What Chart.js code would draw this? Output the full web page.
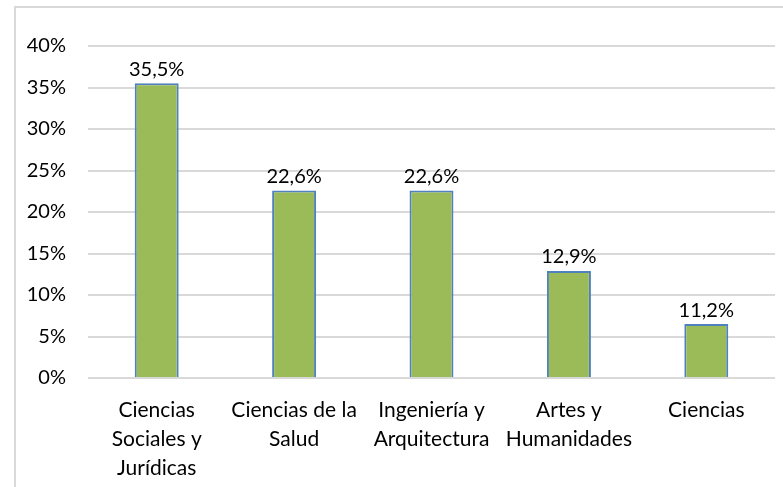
<!DOCTYPE html>
<html>
<head>
<meta charset="utf-8">
<script src="https://cdn.jsdelivr.net/npm/chart.js@4"></script>
<style>
  html, body { margin: 0; padding: 0; background: #fff; }
  #wrap { position: relative; width: 783px; height: 487px; overflow: hidden; }
  #frame { position: absolute; left: 14px; top: 6px; width: 900px; height: 600px;
           border-left: 2px solid #d9d9d9; border-top: 2px solid #d9d9d9; }
  canvas { position: absolute; left: 0; top: 0; }
</style>
</head>
<body>
<div id="wrap">
  <div id="frame"></div>
  <canvas id="chart" width="783" height="487"></canvas>
</div>
<script>
const categories = [
  ['Ciencias', 'Sociales y', 'Jurídicas'],
  ['Ciencias de la', 'Salud'],
  ['Ingeniería y', 'Arquitectura'],
  ['Artes y', 'Humanidades'],
  ['Ciencias'],
];
const values = [35.5, 22.6, 22.6, 12.9, 6.5];
const valueLabels = ['35,5%', '22,6%', '22,6%', '12,9%', '11,2%'];
const yTicks = [0, 5, 10, 15, 20, 25, 30, 35, 40];

const FONT = 'Lato, "Liberation Sans", sans-serif';

const barLabels = {
  id: 'barLabels',
  afterDatasetsDraw(chart) {
    const { ctx } = chart;
    const meta = chart.getDatasetMeta(0);
    ctx.save();
    ctx.font = '20px ' + FONT;
    ctx.fillStyle = '#000';
    ctx.textAlign = 'center';
    ctx.textBaseline = 'bottom';
    meta.data.forEach((bar, i) => {
      ctx.fillText(valueLabels[i], bar.x, bar.y - 4);
    });
    ctx.restore();
  },
};

new Chart(document.getElementById('chart'), {
  type: 'bar',
  data: {
    labels: categories,
    datasets: [{
      data: values,
      backgroundColor: '#9bbb59',
      borderColor: '#4f81bd',
      borderWidth: 2,
      barPercentage: 0.32,
      categoryPercentage: 1,
    }],
  },
  options: {
    responsive: false,
    animation: false,
    layout: { padding: { top: 46, right: 8, left: 0, bottom: 0 } },
    plugins: { legend: { display: false }, tooltip: { enabled: false } },
    scales: {
      x: {
        grid: { display: false },
        border: { display: false },
        ticks: { color: '#000', font: { family: FONT, size: 21, lineHeight: 1.38 }, padding: 10, maxRotation: 0, autoSkip: false },
        afterFit: s => { s.height = 109; },
      },
      y: {
        min: 0,
        max: 40,
        afterBuildTicks: s => { s.ticks = yTicks.map(v => ({ value: v })); },
        grid: { color: '#d9d9d9', lineWidth: 2, drawTicks: false },
        border: { display: false },
        ticks: { color: '#000', font: { family: FONT, size: 20 }, padding: 22, callback: v => v + '%' },
        afterFit: s => { s.width = 88; },
      },
    },
  },
  plugins: [barLabels],
});
</script>
</body>
</html>
